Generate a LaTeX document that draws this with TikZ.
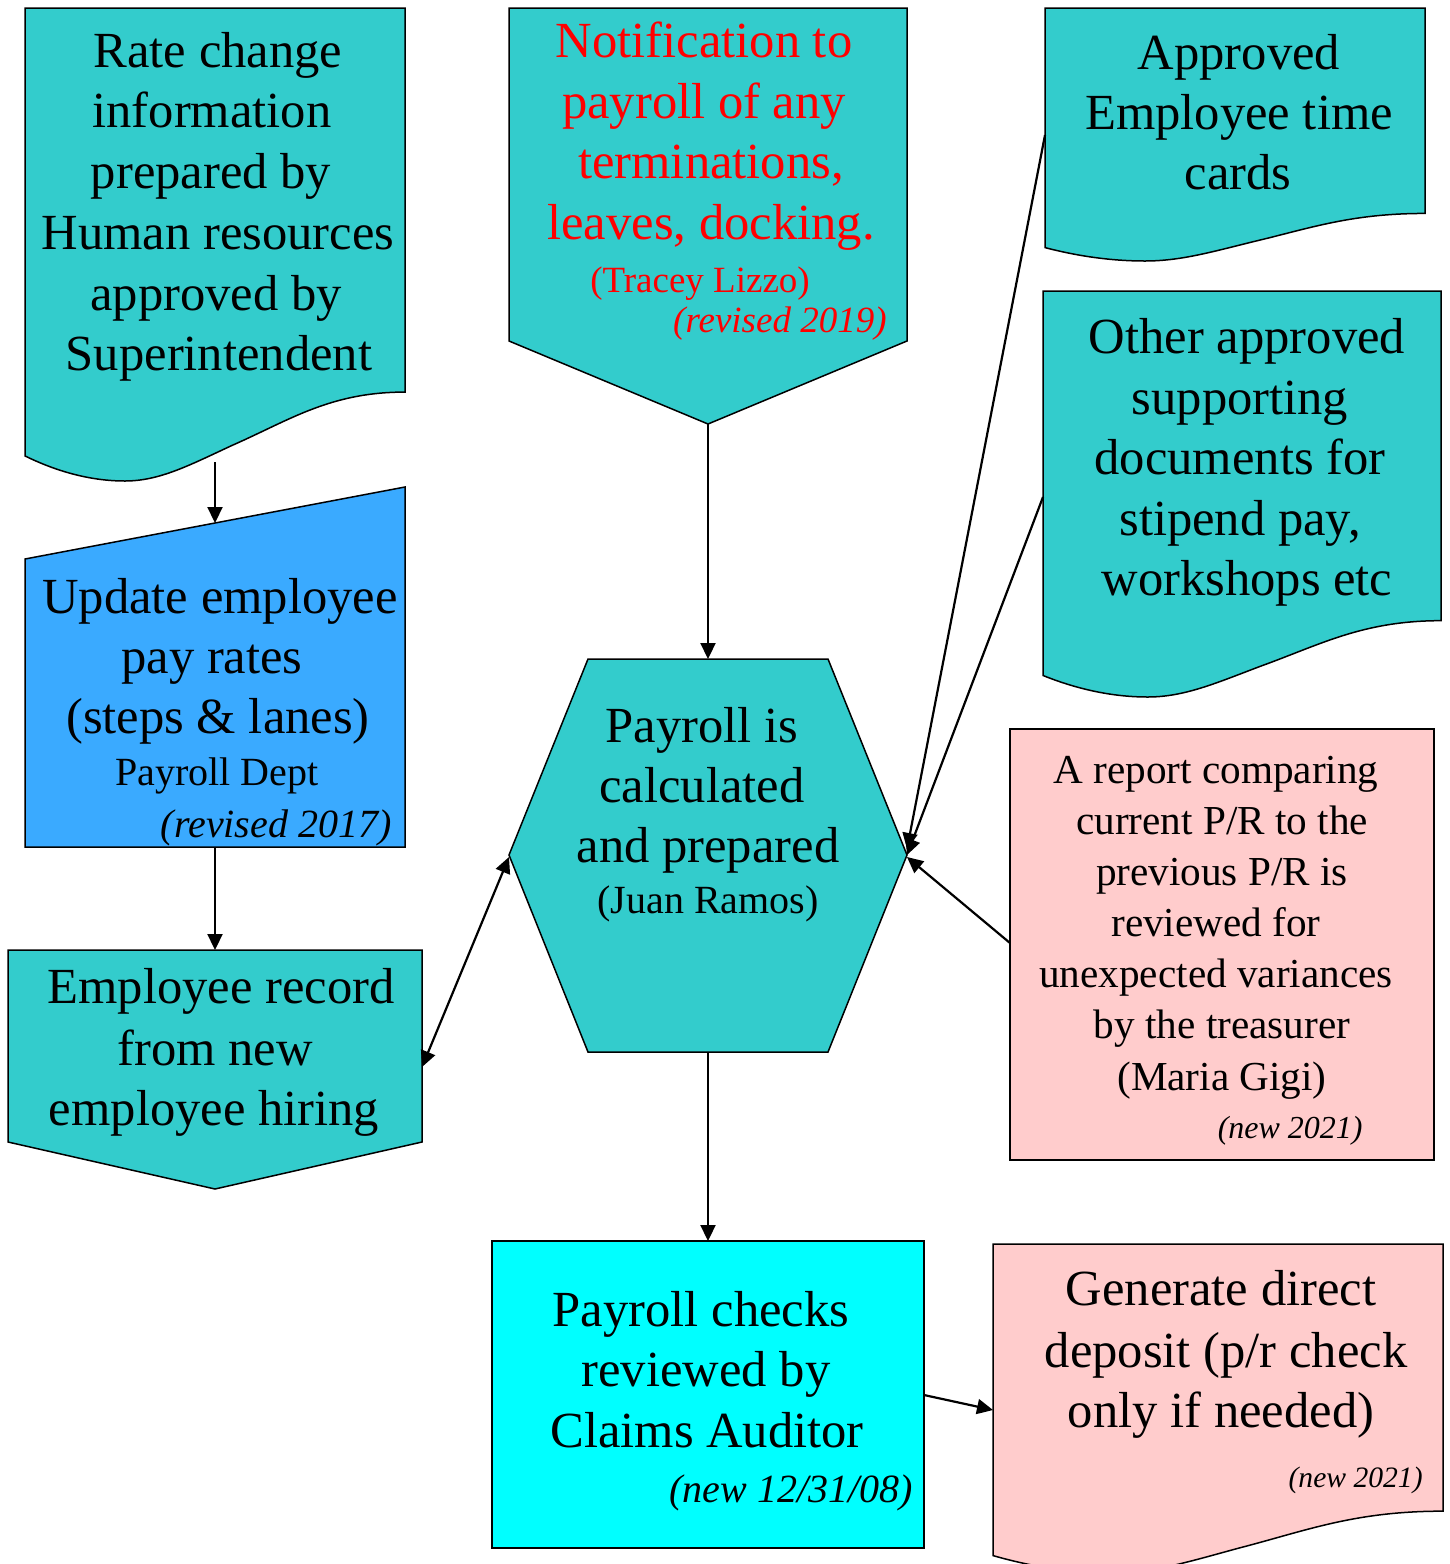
\documentclass[tikz,border=0pt]{standalone}
\usepackage{fontspec}
\setmainfont{Liberation Serif}
\usetikzlibrary{arrows.meta}
\definecolor{tealfill}{HTML}{33CCCC}
\definecolor{bluefill}{HTML}{3AAAFF}
\definecolor{pinkfill}{HTML}{FFCCCC}
\definecolor{cyanfill}{HTML}{00FFFF}
\definecolor{redtext}{HTML}{FF0000}
\tikzset{
  shapeline/.style={draw=black, line width=0.75pt, line join=miter},
  conn/.style={draw=black, line width=1.1pt, -{Triangle[length=8pt,width=7.5pt]}},
  connboth/.style={draw=black, line width=1.1pt, {Triangle[length=8pt,width=7.5pt]}-{Triangle[length=8pt,width=7.5pt]}},
  big/.style={font=\fontsize{25.3}{30}\selectfont, inner sep=0pt, anchor=base},
  mid/.style={font=\fontsize{20.6}{25}\selectfont, inner sep=0pt, anchor=base},
  small/.style={font=\fontsize{20}{24}\selectfont, inner sep=0pt, anchor=base},
  smallr/.style={font=\fontsize{18.5}{22}\selectfont, inner sep=0pt, anchor=base},
  note/.style={font=\fontsize{#1}{#1}\selectfont\itshape, inner sep=0pt, anchor=base east},
}
% document shape: left, top, width, height (to trough), fill
\newcommand\docshape[5]{%
  \filldraw[shapeline, fill=#5] (#1,#2) -- ({#1+#3},#2) -- ({#1+#3},{#2+0.812*#4})
    .. controls ({#1+0.803*#3},{#2+0.812*#4}) and ({#1+0.697*#3},{#2+0.871*#4}) .. ({#1+0.547*#3},{#2+0.924*#4})
    .. controls ({#1+0.434*#3},{#2+0.966*#4}) and ({#1+0.355*#3},{#2+#4}) .. ({#1+0.263*#3},{#2+#4})
    .. controls ({#1+0.158*#3},{#2+#4}) and ({#1+0.066*#3},{#2+0.973*#4}) .. (#1,{#2+0.947*#4}) -- cycle;}
\begin{document}
\begin{tikzpicture}[x=0.5pt,y=-0.5pt]
\useasboundingbox (0,0) rectangle (1450,1564);
\clip (0,0) rectangle (1450,1564);

% ---------- shapes ----------
\docshape{25}{8}{380}{473}{tealfill}
\filldraw[shapeline, fill=bluefill] (25,559) -- (405,487) -- (405,847) -- (25,847) -- cycle;
\filldraw[shapeline, fill=tealfill] (8,950) -- (422,950) -- (422,1142) -- (215,1189) -- (8,1142) -- cycle;
\filldraw[shapeline, fill=tealfill] (509,8) -- (907,8) -- (907,341) -- (708,424) -- (509,341) -- cycle;
\filldraw[shapeline, fill=tealfill] (588,659) -- (828,659) -- (907,855) -- (828,1052) -- (588,1052) -- (509,855) -- cycle;
\docshape{1045}{8}{380}{253}{tealfill}
\docshape{1043}{291}{398}{406}{tealfill}
\filldraw[shapeline, fill=pinkfill] (1010,729) rectangle (1434,1160);
\filldraw[shapeline, fill=cyanfill] (492,1241) rectangle (924,1548);
\docshape{993}{1244}{450}{329}{pinkfill}

% ---------- connector end points ----------
\coordinate (rateout) at (215,462);
\coordinate (updin) at (215,523);
\coordinate (updout) at (215,847);
\coordinate (recin) at (215,950);
\coordinate (recside) at (422,1067);
\coordinate (notout) at (708,424);
\coordinate (hextop) at (708,659);
\coordinate (hexleft) at (509,857);
\coordinate (hexright) at (907,855);
\coordinate (hexbot) at (708,1052);
\coordinate (timeout) at (1045,135);
\coordinate (otherout) at (1043,497);
\coordinate (repout) at (1010,943);
\coordinate (chkin) at (708,1241);
\coordinate (chkout) at (924,1395);
\coordinate (genin) at (993,1410);

% ---------- connectors ----------
\draw[conn] (rateout) -- (updin);
\draw[conn] (updout) -- (recin);
\draw[conn] (notout) -- (hextop);
\draw[connboth] (recside) -- (hexleft);
\draw[conn] (timeout) -- ([yshift=3pt]hexright);
\draw[conn] (otherout) -- (hexright);
\draw[conn] (repout) -- ([yshift=-1pt]hexright);
\draw[conn] (hexbot) -- (chkin);
\draw[conn] (chkout) -- (genin);

% ---------- texts ----------
% Rate change
\node[big] (ra1) at (218,67) {Rate change};
\node[big] (ra2) at (212,127) {information};
\node[big] (ra3) at (211,188) {prepared by};
\node[big] (ra4) at (218,249) {Human resources};
\node[big] (ra5) at (216,310) {approved by};
\node[big] (ra6) at (219,370) {Superintendent};
% Update
\node[big] (up1) at (220,613) {Update employee};
\node[big] (up2) at (212,673) {pay rates};
\node[big] (up3) at (218,733) {(steps \& lanes)};
\node[small] (up4) at (217,785) {Payroll Dept};
\node[note=20] (up5) at (392,837) {(revised 2017)};
% Employee record
\node[big] (er1) at (221,1003) {Employee record};
\node[big] (er2) at (215,1065) {from new};
\node[big] (er3) at (214,1125) {employee hiring};
% Notification
\begin{scope}[text=redtext]
\node[big] (no1) at (704,57) {Notification to};
\node[big] (no2) at (704,118) {payroll of any};
\node[big] (no3) at (711,178) {terminations,};
\node[big] (no4) at (711,239) {leaves, docking.};
\node[smallr] (no5) at (700,292) {(Tracey Lizzo)};
\node[note=18.5] (no6) at (887,332) {(revised 2019)};
\end{scope}
% Hexagon
\node[big] (hx1) at (702,742) {Payroll is};
\node[big] (hx2) at (702,802) {calculated};
\node[big] (hx3) at (708,862) {and prepared};
\node[small] (hx4) at (708,913) {(Juan Ramos)};
% Approved time cards
\node[big] (ap1) at (1239,69) {Approved};
\node[big] (ap2) at (1239,129) {Employee time};
\node[big] (ap3) at (1238,189) {cards};
% Other approved
\node[big] (ot1) at (1247,353) {Other approved};
\node[big] (ot2) at (1240,414) {supporting};
\node[big] (ot3) at (1240,474) {documents for};
\node[big] (ot4) at (1240,535) {stipend pay,};
\node[big] (ot5) at (1247,595) {workshops etc};
% Report
\node[mid] (rp1) at (1216,783) {A report comparing};
\node[mid] (rp2) at (1222,834) {current P/R to the};
\node[mid] (rp3) at (1222,885) {previous P/R is};
\node[mid] (rp4) at (1216,936) {reviewed for};
\node[mid] (rp5) at (1216,987) {unexpected variances};
\node[mid] (rp6) at (1222,1038) {by the treasurer};
\node[mid] (rp7) at (1222,1090) {(Maria Gigi)};
\node[note=16] (rp8) at (1363,1138) {(new 2021)};
% Payroll checks
\node[big] (pc1) at (701,1326) {Payroll checks};
\node[big] (pc2) at (706,1386) {reviewed by};
\node[big] (pc3) at (707,1447) {Claims Auditor};
\node[note=20] (pc4) at (913,1502) {(new 12/31/08)};
% Generate
\node[big] (ge1) at (1221,1305) {Generate direct};
\node[big] (ge2) at (1226,1367) {deposit (p/r check};
\node[big] (ge3) at (1221,1427) {only if needed)};
\node[note=14.8] (ge4) at (1423,1487) {(new 2021)};
\end{tikzpicture}
\end{document}
